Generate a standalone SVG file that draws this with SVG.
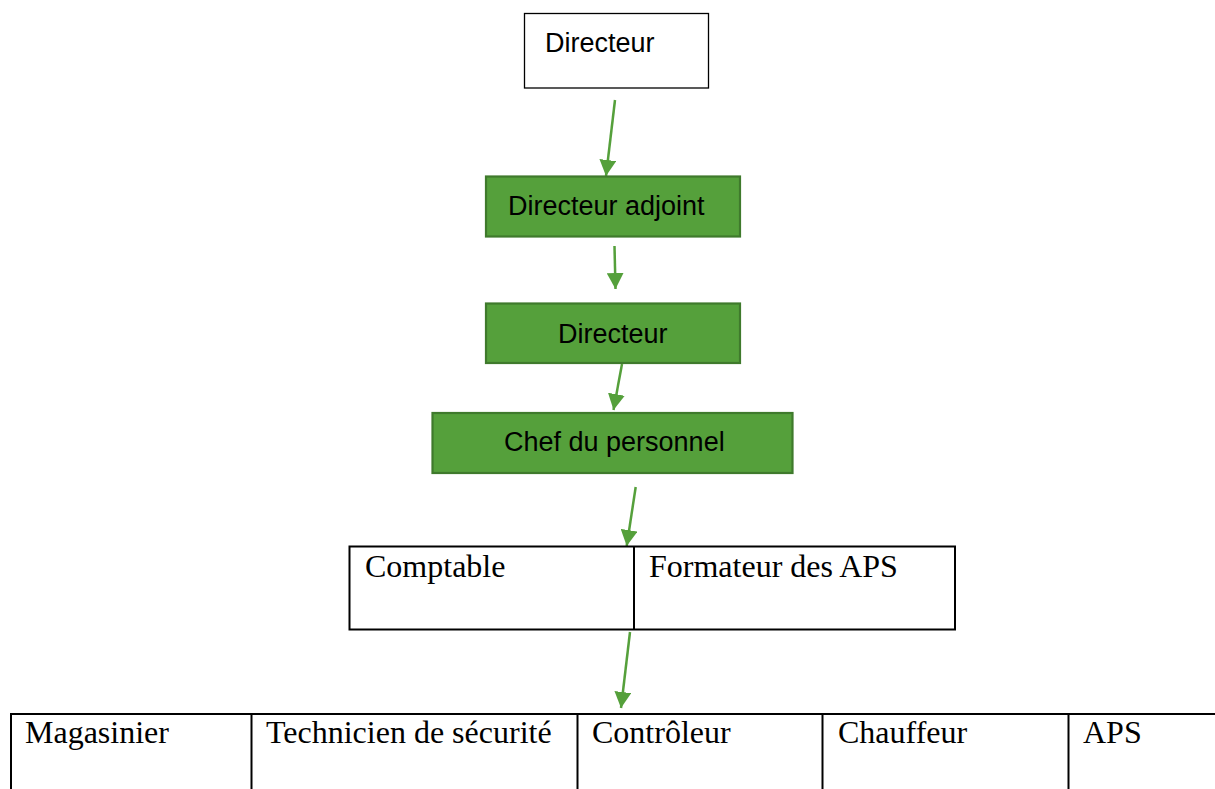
<svg xmlns="http://www.w3.org/2000/svg" width="1215" height="789" viewBox="0 0 1215 789">
<style>
.sans{font-family:"Liberation Sans",Arial,sans-serif;font-size:27px;fill:#000}
.serif{font-family:"Liberation Serif","Times New Roman",serif;font-size:32px;fill:#000}
.green{fill:#55A03B;stroke:#3F7A2C;stroke-width:2.2}
.plain{fill:#fff;stroke:#000;stroke-width:1.3}
.cell{fill:#fff;stroke:#000;stroke-width:2}
.conn{stroke:#55A03B;stroke-width:2.5;fill:none;marker-end:url(#ah)}
</style>
<defs>
<marker id="ah" markerUnits="userSpaceOnUse" markerWidth="17" markerHeight="17" viewBox="0 0 17 17" refX="16" refY="8.5" orient="auto">
<path d="M0,0 L16,8.5 L0,17 Z" fill="#55A03B"/>
</marker>
</defs>
<rect width="1215" height="789" fill="#fff"/>
<g id="connectors">
<line class="conn" x1="615" y1="100" x2="606" y2="176"/>
<line class="conn" x1="614.5" y1="246" x2="615.5" y2="289"/>
<line class="conn" x1="622" y1="364" x2="613.5" y2="410"/>
<line class="conn" x1="635.7" y1="487" x2="626.7" y2="546"/>
<line class="conn" x1="630" y1="632" x2="621" y2="708"/>
</g>
<g id="n-directeur-top">
<rect class="plain" x="524.5" y="13.5" width="184" height="74.5"/>
<text class="sans" x="545" y="51.5">Directeur</text>
</g>
<g id="n-directeur-adjoint">
<rect class="green" x="486" y="176.5" width="254" height="60"/>
<text class="sans" x="508" y="215">Directeur adjoint</text>
</g>
<g id="n-directeur">
<rect class="green" x="486" y="303.5" width="254" height="59.5"/>
<text class="sans" x="558" y="343">Directeur</text>
</g>
<g id="n-chef">
<rect class="green" x="432.5" y="413" width="360" height="60"/>
<text class="sans" x="504" y="451">Chef du personnel</text>
</g>
<g id="n-level2">
<rect class="cell" x="349.5" y="546.5" width="605.5" height="83"/>
<line x1="634" y1="546.5" x2="634" y2="629.5" stroke="#000" stroke-width="2"/>
<text class="serif" x="365" y="577">Comptable</text>
<text class="serif" x="649" y="577">Formateur des APS</text>
</g>
<g id="n-level3">
<rect class="cell" x="11" y="714" width="1220" height="90"/>
<line x1="251.5" y1="714" x2="251.5" y2="789" stroke="#000" stroke-width="2"/>
<line x1="577.5" y1="714" x2="577.5" y2="789" stroke="#000" stroke-width="2"/>
<line x1="822.5" y1="714" x2="822.5" y2="789" stroke="#000" stroke-width="2"/>
<line x1="1068.5" y1="714" x2="1068.5" y2="789" stroke="#000" stroke-width="2"/>
<text class="serif" x="25" y="743">Magasinier</text>
<text class="serif" x="266" y="743">Technicien de sécurité</text>
<text class="serif" x="592" y="743">Contrôleur</text>
<text class="serif" x="838" y="743">Chauffeur</text>
<text class="serif" x="1083" y="743">APS</text>
</g>
</svg>
